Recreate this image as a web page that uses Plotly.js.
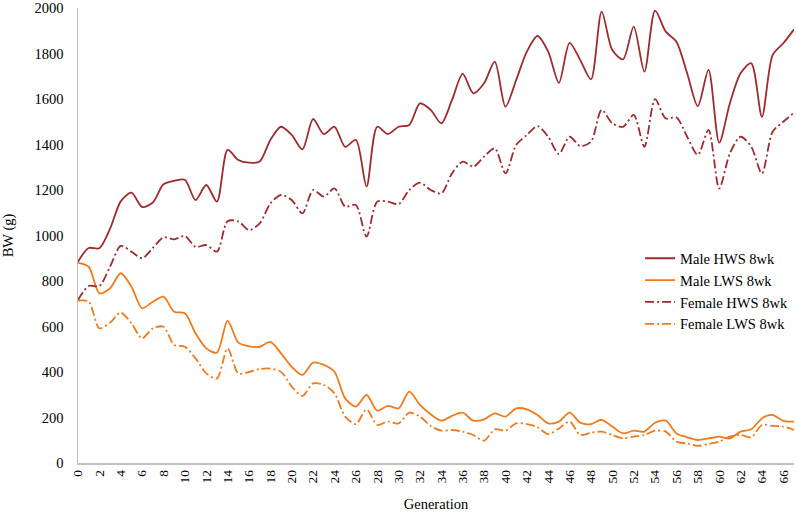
<!DOCTYPE html>
<html>
<head>
<meta charset="utf-8">
<script src="https://cdn.plot.ly/plotly-3.0.1.min.js"></script>
<style>
  html, body { margin: 0; padding: 0; background: #fff; }
  #graph { width: 796px; height: 512px; }
</style>
</head>
<body>
<div id="graph"></div>
<script>
// generations 0..67
let generations = [];
for (let g = 0; g <= 67; g++) generations.push(g);

let male_hws = [885, 945, 944, 1030, 1150, 1188, 1125, 1145, 1225, 1240, 1245, 1156, 1222, 1149, 1376, 1332,
  1320, 1325, 1420, 1478, 1442, 1379, 1512, 1446, 1478, 1390, 1420, 1215, 1478, 1446, 1478, 1486,
  1581, 1552, 1493, 1596, 1710, 1625, 1669, 1764, 1566, 1683, 1808, 1877, 1808, 1671, 1847, 1771,
  1686, 1984, 1815, 1774, 1918, 1720, 1988, 1896, 1852, 1713, 1569, 1728, 1408, 1581, 1713, 1757,
  1522, 1793, 1845, 1906];

let male_lws = [880, 863, 746, 768, 834, 775, 680, 709, 731, 665, 658, 570, 504, 485, 626, 529,
  513, 511, 532, 482, 423, 387, 441, 431, 401, 284, 248, 299, 230, 251, 240, 314,
  255, 214, 186, 207, 221, 186, 192, 218, 204, 240, 236, 211, 174, 182, 221, 177,
  171, 190, 160, 130, 142, 138, 177, 186, 130, 113, 101, 108, 116, 108, 138, 148,
  196, 211, 185, 182];

let female_hws = [716, 778, 778, 863, 954, 929, 900, 945, 992, 983, 998, 950, 958, 929, 1063, 1062,
  1024, 1053, 1141, 1178, 1156, 1097, 1200, 1171, 1207, 1127, 1134, 995, 1149, 1149, 1138, 1200,
  1232, 1200, 1185, 1273, 1325, 1303, 1347, 1383, 1273, 1398, 1442, 1481, 1434, 1358, 1434, 1393,
  1412, 1552, 1493, 1478, 1530, 1390, 1599, 1515, 1519, 1434, 1354, 1464, 1207, 1361, 1434, 1390,
  1273, 1456, 1500, 1540];

let female_lws = [714, 709, 592, 617, 661, 614, 548, 592, 599, 519, 511, 460, 394, 372, 504, 394,
  400, 413, 415, 401, 336, 295, 350, 343, 306, 204, 171, 236, 167, 182, 174, 221,
  204, 163, 142, 145, 138, 123, 98, 148, 142, 174, 171, 157, 127, 152, 182, 123,
  133, 138, 123, 108, 116, 123, 142, 138, 94, 86, 75, 84, 94, 116, 123, 113,
  167, 163, 160, 145];

let x_ticks = [];
for (let g = 0; g <= 66; g += 2) x_ticks.push(g);

let dark_red = "#9e2b2f";
let orange = "#f07a1c";
let dash_dot = "9px,3px,2px,3px";

function trace(y, name, color, dash) {
  return {
    x: generations,
    y: y,
    name: name,
    type: "scatter",
    mode: "lines",
    line: { color: color, width: 1.8, shape: "spline", smoothing: 0.8, dash: dash },
    hoverinfo: "skip",
  };
}

let data = [
  trace(male_hws, "Male HWS 8wk", dark_red, "solid"),
  trace(male_lws, "Male LWS 8wk", orange, "solid"),
  trace(female_hws, "Female HWS 8wk", dark_red, dash_dot),
  trace(female_lws, "Female LWS 8wk", orange, dash_dot),
];

let layout = {
  width: 796,
  height: 512,
  paper_bgcolor: "#ffffff",
  plot_bgcolor: "#ffffff",
  font: { family: "Liberation Serif, Times New Roman, serif", size: 14.5, color: "#000" },
  margin: { l: 78, r: 2, t: 8, b: 49 },
  showlegend: true,
  legend: {
    x: 0.785,
    y: 0.485,
    xanchor: "left",
    yanchor: "top",
    bgcolor: "rgba(0,0,0,0)",
    font: { size: 14.5 },
    tracegroupgap: 0,
    itemwidth: 30,
  },
  xaxis: {
    range: [0, 67],
    tickmode: "array",
    tickvals: x_ticks,
    ticktext: x_ticks.map(String),
    tickangle: -90,
    ticks: "",
    showgrid: false,
    zeroline: false,
    showline: true,
    linecolor: "#bfbfbf",
    linewidth: 1.5,
    tickfont: { size: 13.5 },
    automargin: false,
    title: { text: "Generation", font: { size: 14.5 }, standoff: 18 },
  },
  yaxis: {
    range: [0, 2000],
    dtick: 200,
    ticks: "",
    showgrid: false,
    zeroline: false,
    showline: true,
    linecolor: "#bfbfbf",
    linewidth: 1.5,
    tickfont: { size: 14.5 },
    ticklabelstandoff: 10,
    automargin: false,
    title: { text: "BW (g)", font: { size: 14.5 }, standoff: 18 },
  },
};

Plotly.newPlot("graph", data, layout, { staticPlot: true });
</script>
</body>
</html>
